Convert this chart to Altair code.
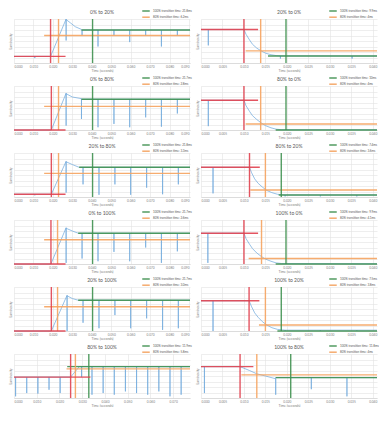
import altair as alt
import pandas as pd

# ---------------- data ----------------
TITLES = ["0% to 20%", "20% to 0%", "0% to 80%", "80% to 0%", "20% to 80%", "80% to 20%",
          "0% to 100%", "100% to 0%", "20% to 100%", "100% to 20%", "80% to 100%", "100% to 80%"]
T100 = ["21.8ms", "9.9ms", "21.7ms", "10ms", "21.8ms", "7.4ms",
        "21.7ms", "9.9ms", "21.7ms", "7.5ms", "11.9ms", "11.8ms"]
T80 = ["6.2ms", "4ms", "2.8ms", "4ms", "3.3ms", "3.6ms",
       "2.6ms", "4.1ms", "3.0ms", "3.8ms", "5.8ms", "4ms"]

# x-axis extent / tick step per panel
X_MAX = [0.0905, 0.041, 0.0905, 0.041, 0.0905, 0.041, 0.0905, 0.041, 0.0905, 0.041, 0.0774, 0.041]
X_STEP = [0.01, 0.005, 0.01, 0.005, 0.01, 0.005, 0.01, 0.005, 0.01, 0.005, 0.01, 0.005]

# start (red) crosshair
RED_T = [0.0188, 0.010, 0.0192, 0.010, 0.0192, 0.0113, 0.019, 0.010, 0.0192, 0.0112, 0.0249, 0.0091]
RED_LEVEL = [1.2, 6.1, 0.0, 5.4, 0.5, 5.4, 0.0, 5.6, 0.0, 5.5, 3.8, 5.7]
RED_END = [0.0265, 0.0133, 0.0265, 0.0133, 0.0265, 0.0137, 0.0265, 0.0133, 0.0265, 0.0136, 0.0336, 0.0122]
# 80% (orange) crosshair
OR_T = [0.0229, 0.0139, 0.0229, 0.0139, 0.0229, 0.015, 0.0224, 0.0141, 0.0224, 0.015, 0.027, 0.013]
OR_LEVEL = [5.0, 2.2, 4.3, 1.1, 4.3, 1.27, 4.4, 1.0, 4.4, 1.1, 5.3, 4.2]
OR_START = [0.0155, 0.0104, 0.0155, 0.0104, 0.0155, 0.0115, 0.0155, 0.0111, 0.0155, 0.0135, 0.0231, 0.0094]
# 100% (green) crosshair
GR_T = [0.0404, 0.0198, 0.0404, 0.0198, 0.0404, 0.0187, 0.0404, 0.0198, 0.0404, 0.0187, 0.0329, 0.0209]
GR_LEVEL = [6.0, 1.27, 5.6, 0.0, 5.4, 0.36, 5.6, 0.0, 5.6, 0.0, 5.7, 3.7]
GR_START = [0.0347, 0.0156, 0.0347, 0.0174, 0.0335, 0.0181, 0.033, 0.0174, 0.033, 0.0178, 0.0234, 0.0174]

# measured luminosity curves (time in s, luminosity in arbitrary units)
C01_T = [0, 0.0107, 0.0107, 0.0107, 0.0188, 0.0268, 0.0268, 0.0268, 0.029, 0.0315, 0.0347,
         0.035, 0.035, 0.035, 0.0432, 0.0432, 0.0432, 0.0514, 0.0514, 0.0514, 0.0595, 0.0595, 0.0595,
         0.0677, 0.0677, 0.0677, 0.0758, 0.0758, 0.0758, 0.084, 0.084, 0.084, 0.0905]
C01_Y = [1.2, 1.2, 0.9, 1.2, 1.2, 8.0, 4.1, 7.9, 7.3, 6.6, 6.1,
         6.0, 5.0, 6.0, 6.0, 3.0, 6.0, 6.0, 5.0, 6.0, 6.0, 3.8, 6.0,
         6.0, 5.0, 6.0, 6.0, 3.0, 6.0, 6.0, 5.0, 6.0, 6.0]
C02_T = [0, 0.0017, 0.0017, 0.0017, 0.010, 0.0105, 0.0113, 0.012, 0.013, 0.014, 0.015, 0.0163,
         0.0175, 0.0185, 0.0185, 0.0185, 0.0352, 0.0352, 0.0352, 0.041]
C02_Y = [6.1, 6.1, 3.2, 6.1, 6.1, 5.2, 4.2, 3.4, 2.7, 2.2, 1.8, 1.5,
         1.35, 1.3, 0.8, 1.3, 1.27, 0.8, 1.27, 1.27]
C03_T = [0, 0.0192, 0.0268, 0.0268, 0.0268, 0.030, 0.0347, 0.0347, 0.0347, 0.0432, 0.0432, 0.0432,
         0.0514, 0.0514, 0.0514, 0.0595, 0.0595, 0.0595, 0.0677, 0.0677, 0.0677,
         0.0758, 0.0758, 0.0758, 0.084, 0.084, 0.084, 0.0905]
C03_Y = [0, 0, 6.7, 0.8, 6.6, 6.0, 5.7, 2.0, 5.6, 5.6, 0.5, 5.6,
         5.6, 1.1, 5.6, 5.6, 0.5, 5.6, 5.6, 2.3, 5.6,
         5.6, 0.6, 5.6, 5.6, 3.0, 5.6, 5.6]
C04_T = [0, 0.0017, 0.0017, 0.0017, 0.010, 0.0105, 0.0113, 0.012, 0.013, 0.014, 0.015, 0.0163,
         0.0175, 0.0188, 0.041]
C04_Y = [5.4, 5.4, 0.7, 5.4, 5.4, 4.4, 3.4, 2.6, 1.9, 1.3, 0.8, 0.4, 0.15, 0.05, 0.05]
C05_T = [0, 0.0107, 0.0107, 0.0107, 0.0192, 0.0268, 0.0268, 0.0268, 0.030, 0.0335,
         0.0355, 0.0355, 0.0355, 0.0437, 0.0437, 0.0437, 0.0519, 0.0519, 0.0519, 0.060, 0.060, 0.060,
         0.0682, 0.0682, 0.0682, 0.0764, 0.0764, 0.0764, 0.0845, 0.0845, 0.0845, 0.0905]
C05_Y = [0.5, 0.5, 0.3, 0.5, 0.5, 6.5, 0.8, 6.4, 5.9, 5.4,
         5.4, 2.3, 5.4, 5.4, 0.4, 5.4, 5.4, 2.3, 5.4, 5.4, 0.4, 5.4,
         5.4, 1.7, 5.4, 5.4, 0.5, 5.4, 5.4, 2.3, 5.4, 5.4]
C06_T = [0, 0.0028, 0.0028, 0.0028, 0.0113, 0.0118, 0.0125, 0.0133, 0.0143, 0.0153, 0.0165, 0.0178,
         0.019, 0.0196, 0.0196, 0.0196, 0.0278, 0.0278, 0.0278, 0.0363, 0.0363, 0.0363, 0.041]
C06_Y = [5.4, 5.4, 0.66, 5.4, 5.4, 4.4, 3.3, 2.5, 1.8, 1.2, 0.8, 0.5,
         0.4, 0.36, 0.1, 0.36, 0.36, 0.1, 0.36, 0.36, 0.1, 0.36, 0.36]
C07_T = [0, 0.019, 0.0268, 0.0268, 0.0268, 0.030, 0.033,
         0.035, 0.035, 0.035, 0.0432, 0.0432, 0.0432, 0.0514, 0.0514, 0.0514, 0.0595, 0.0595, 0.0595,
         0.0677, 0.0677, 0.0677, 0.0758, 0.0758, 0.0758, 0.084, 0.084, 0.084, 0.0905]
C07_Y = [0, 0, 6.6, 0.2, 6.5, 6.0, 5.6,
         5.6, 1.0, 5.6, 5.6, 0.5, 5.6, 5.6, 2.2, 5.6, 5.6, 0.5, 5.6,
         5.6, 3.0, 5.6, 5.6, 0.2, 5.6, 5.6, 2.3, 5.6, 5.6]
C08_T = [0, 0.0016, 0.0016, 0.0016, 0.010, 0.0105, 0.0113, 0.012, 0.013, 0.014, 0.015, 0.0163,
         0.0175, 0.0188, 0.041]
C08_Y = [5.6, 5.6, 0.2, 5.6, 5.6, 4.6, 3.6, 2.8, 2.0, 1.4, 0.9, 0.5, 0.2, 0.08, 0.05]
C09_T = [0, 0.0192, 0.0273, 0.0273, 0.0273, 0.030, 0.033,
         0.0355, 0.0355, 0.0355, 0.0437, 0.0437, 0.0437, 0.0519, 0.0519, 0.0519, 0.060, 0.060, 0.060,
         0.0682, 0.0682, 0.0682, 0.0764, 0.0764, 0.0764, 0.0845, 0.0845, 0.0845, 0.0905]
C09_Y = [0, 0, 6.5, 0.0, 6.4, 5.9, 5.6,
         5.6, 1.5, 5.6, 5.6, 0.5, 5.6, 5.6, 2.9, 5.6, 5.6, 0.5, 5.6,
         5.6, 2.3, 5.6, 5.6, 0.2, 5.6, 5.6, 0.5, 5.6, 5.6]
C10_T = [0, 0.0028, 0.0028, 0.0028, 0.0112, 0.0118, 0.0125, 0.0133, 0.0143, 0.0153, 0.0165, 0.0178,
         0.019, 0.0196, 0.0196, 0.0196, 0.0278, 0.0278, 0.0278, 0.0363, 0.0363, 0.0363, 0.041]
C10_Y = [5.5, 5.5, 0.0, 5.5, 5.5, 4.4, 3.3, 2.5, 1.7, 1.1, 0.6, 0.3,
         0.2, 0.15, 0.0, 0.15, 0.15, 0.0, 0.15, 0.15, 0.0, 0.15, 0.15]
C11_T = [0, 0.0007, 0.0007, 0.0007, 0.0056, 0.0056, 0.0056, 0.0105, 0.0105, 0.0105,
         0.0154, 0.0154, 0.0154, 0.0203, 0.0203, 0.0203, 0.0249, 0.0287,
         0.0297, 0.0297, 0.0297, 0.0343, 0.0343, 0.0343, 0.0392, 0.0392, 0.0392,
         0.0441, 0.0441, 0.0441, 0.049, 0.049, 0.049, 0.0539, 0.0539, 0.0539,
         0.0588, 0.0588, 0.0588, 0.0637, 0.0637, 0.0637, 0.0686, 0.0686, 0.0686,
         0.0735, 0.0735, 0.0735, 0.0774]
C11_Y = [3.8, 3.8, 0.3, 3.8, 3.8, 0.9, 3.8, 3.8, 0.8, 3.8,
         3.8, 1.5, 3.8, 3.8, 0.9, 3.8, 3.8, 5.7,
         5.7, 3.8, 5.7, 5.7, 0.6, 5.7, 5.7, 0.9, 5.7,
         5.7, 0.6, 5.7, 5.7, 1.2, 5.7, 5.7, 0.9, 5.7,
         5.7, 0.6, 5.7, 5.7, 1.2, 5.7, 5.7, 0.3, 5.7,
         5.7, 0.6, 5.7, 5.7]
C12_T = [0, 0.0008, 0.0008, 0.0008, 0.0091, 0.0113, 0.013, 0.015, 0.0174, 0.0174, 0.0174,
         0.0257, 0.0257, 0.0257, 0.034, 0.034, 0.034, 0.041]
C12_Y = [5.7, 5.7, 0.9, 5.7, 5.7, 5.0, 4.4, 4.0, 3.5, 0.6, 3.7,
         3.7, 1.6, 3.7, 3.7, 0.3, 3.7, 3.7]

CURVES = [(C01_T, C01_Y), (C02_T, C02_Y), (C03_T, C03_Y), (C04_T, C04_Y),
          (C05_T, C05_Y), (C06_T, C06_Y), (C07_T, C07_Y), (C08_T, C08_Y),
          (C09_T, C09_Y), (C10_T, C10_Y), (C11_T, C11_Y), (C12_T, C12_Y)]

# ---------------- styling ----------------
W, H = 176, 44
BLUE = "#6fa8dc"
RED = "#e0414f"
ORANGE = "#f5a35f"
GREEN = "#3f9150"
FONT = "Lato"
Y_GRID = [0, 1, 2, 3, 4, 5, 6, 7, 8]


def panel(k):
    ct, cy = CURVES[k]
    xmax, step = X_MAX[k], X_STEP[k]
    n_ticks = int(round(xmax / step + 1e-9)) + 1
    ticks = [round(i * step, 4) for i in range(n_ticks) if i * step <= xmax + 1e-9]

    xscale = alt.Scale(domain=[0, xmax], nice=False, zero=False)
    yscale = alt.Scale(domain=[0, 8], nice=False)
    xaxis = alt.Axis(values=ticks, tickCount=len(ticks), format=".3f", title="Time (seconds)",
                     labelOverlap=False)
    yaxis = alt.Axis(values=Y_GRID, tickCount=len(Y_GRID), labels=False, ticks=False,
                     domain=False, title="Luminosity")

    curve = pd.DataFrame({"t": ct, "v": cy, "i": list(range(len(ct)))})
    base_line = alt.Chart(curve).mark_line(color=BLUE, strokeWidth=0.8, opacity=0.9).encode(
        x=alt.X("t:Q", scale=xscale, axis=xaxis),
        y=alt.Y("v:Q", scale=yscale, axis=yaxis),
        order="i:Q",
    )

    lab100 = "100% transition time: " + T100[k]
    lab80 = "80% transition time: " + T80[k]
    go = pd.DataFrame({
        "series": [lab100, lab80],
        "tv": [GR_T[k], OR_T[k]],
        "lvl": [GR_LEVEL[k], OR_LEVEL[k]],
        "x0": [GR_START[k], OR_START[k]],
        "x1": [xmax, xmax],
    })
    color = alt.Color(
        "series:N",
        scale=alt.Scale(domain=[lab100, lab80], range=[GREEN, ORANGE]),
        legend=alt.Legend(orient="none", legendX=W - 47, legendY=-11, title=None,
                          symbolType="M-2,0H2", symbolSize=14, symbolStrokeWidth=1.5,
                          labelFontSize=3.0, labelColor="#595959", labelFont=FONT,
                          rowPadding=0.2, labelOffset=4, padding=0, direction="vertical"),
    )
    go_h = alt.Chart(go).mark_rule(strokeWidth=1.4, opacity=0.9).encode(
        x="x0:Q", x2="x1:Q", y="lvl:Q", color=color)
    go_v = alt.Chart(go).mark_rule(strokeWidth=1.4, opacity=0.9).encode(
        x="tv:Q", color=color)

    red = pd.DataFrame({"tv": [RED_T[k]], "lvl": [RED_LEVEL[k]], "x0": [0.0], "x1": [RED_END[k]]})
    red_h = alt.Chart(red).mark_rule(strokeWidth=1.4, color=RED, opacity=0.9).encode(
        x="x0:Q", x2="x1:Q", y="lvl:Q")
    red_v = alt.Chart(red).mark_rule(strokeWidth=1.4, color=RED, opacity=0.9).encode(
        x="tv:Q")

    return alt.layer(base_line, go_h, go_v, red_h, red_v).properties(
        width=W, height=H,
        title=alt.TitleParams(TITLES[k], fontSize=5, color="#595959", font=FONT,
                              fontWeight="normal", offset=-7, anchor="middle"),
    )


rows = []
for r in range(6):
    row = alt.hconcat(panel(2 * r), panel(2 * r + 1), spacing=3).resolve_scale(
        x="independent", y="independent", color="independent")
    rows.append(row)

chart = alt.vconcat(*rows, spacing=3).resolve_scale(
    x="independent", y="independent", color="independent"
).properties(
    padding={"left": 0, "top": 0, "right": 0, "bottom": 0},
    background="white",
).configure_view(
    strokeWidth=0
).configure_axis(
    gridColor="#e2e2e2", gridWidth=0.6, domainColor="#d0d0d0", domainWidth=0.6,
    labelFontSize=3.2, labelColor="#7f7f7f", labelFont=FONT, labelPadding=1.2,
    titleFontSize=3.4, titleColor="#7f7f7f", titleFont=FONT, titleFontWeight="normal",
    titlePadding=1.2, ticks=False,
)

chart.save("out.html", embed_options={"renderer": "svg", "actions": False})
